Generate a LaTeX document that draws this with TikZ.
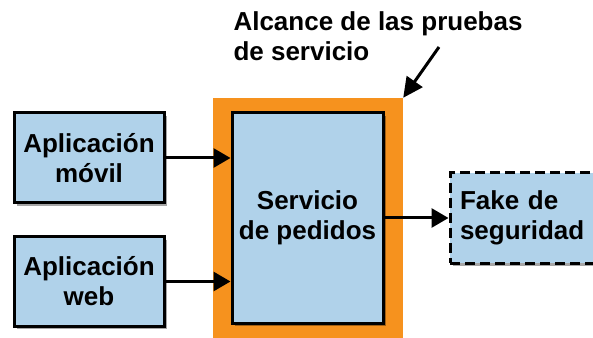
\documentclass[tikz,border=0pt]{standalone}
\usepackage{fontspec}
\setmainfont{Liberation Sans}
\usetikzlibrary{arrows.meta,shadows}
\definecolor{boxblue}{RGB}{176,210,234}
\definecolor{scopeorange}{RGB}{246,146,30}
\begin{document}
\begin{tikzpicture}[x=1pt,y=1pt,
		font=\fontsize{26}{30}\selectfont\bfseries,
		box/.style={draw=black,line width=3pt,fill=boxblue,align=center,inner sep=0pt,
			drop shadow={shadow xshift=3pt,shadow yshift=-3pt,fill=black,opacity=0.35}},
		link/.style={line width=3pt,-{Triangle[length=17pt,width=19pt]}}]
		\useasboundingbox (0,0) rectangle (593,337);
		%\draw[help lines] (0,0) grid[step=50] (593,337);
		\node [fill=scopeorange,minimum width=190,minimum height=250,inner sep=0pt] (scope) at (308,114) {};
		\node [box,minimum width=150,minimum height=90] (movil) at (89,179) {Aplicación\\móvil};
		\node [box,minimum width=150,minimum height=89] (web) at (89,55.5) {Aplicación\\web};
		\node [box,minimum width=151,minimum height=210] (pedidos) at (307.5,119) {Servicio\\de pedidos};
		\node [box,dashed,dash pattern=on 10pt off 5pt,align=left,text width=140,
			minimum width=160,minimum height=90] (fake) at (530,119) {Fake de\\seguridad};
		\coordinate (T) at (439,290);
		\node [anchor=base west,align=left] (alcance) at (230,276) {Alcance de las pruebas\\de servicio};
		\draw [link] (movil.east) to (movil.east -| pedidos.west);
		\draw [link] (web.east) to (web.east -| pedidos.west);
		\draw [link] (pedidos.east) to (fake.west);
		\draw [line width=3pt,-{Triangle[length=20pt,width=19pt]}] (T) to (scope.north east);
	\end{tikzpicture}
\end{document}
